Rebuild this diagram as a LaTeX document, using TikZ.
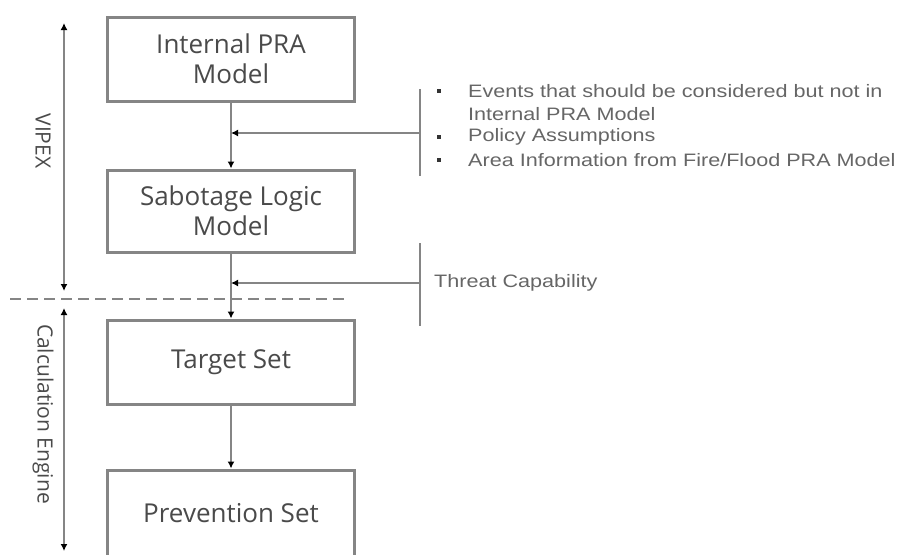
\documentclass[tikz,border=0pt]{standalone}
\usepackage{fontspec}
\setmainfont{Open Sans}
\newfontfamily\arialf{Liberation Sans}
\usetikzlibrary{arrows.meta}
\definecolor{lgray}{HTML}{858585}
\definecolor{tgray}{HTML}{4A4A4A}
\definecolor{rgray}{HTML}{666666}
\newcommand{\wide}[1]{\scalebox{1.2}[1]{#1}}
\begin{document}
\begin{tikzpicture}[x=1pt,y=-1pt,
  box/.style={draw=lgray,line width=3pt,minimum width=247pt,inner sep=0pt,align=center,
    font=\fontsize{26}{30}\selectfont,text=tgray},
  arr/.style={draw=lgray,line width=2.8pt,-{Latex[length=7pt,width=7pt,color=black]}},
  darr/.style={draw=lgray,line width=2.8pt,{Latex[length=7pt,width=7pt,color=black]}-{Latex[length=7pt,width=7pt,color=black]}},
  ln/.style={draw=lgray,line width=2.8pt},
  side/.style={font=\fontsize{21}{24}\selectfont,text=tgray},
  note/.style={font=\arialf\fontsize{18}{23}\selectfont,text=rgray,anchor=west,inner sep=0pt},
  bul/.style={fill=black!80,minimum size=4.5pt,inner sep=0pt}]
\useasboundingbox (0,0) rectangle (901,554);
\fill[white] (0,0) rectangle (901,554);
% boxes
\node[box,minimum height=84pt] (b1) at (231,59) {Internal PRA\\Model};
\node[box,minimum height=82pt] (b2) at (231,211) {Sabotage Logic\\Model};
\node[box,minimum height=84pt] (b3) at (231,362) {Target Set};
\node[box,minimum height=88pt,text depth=0pt] (b4) at (231,514) {\raisebox{3pt}{Prevention Set}};
% main arrows
\draw[arr] (b1) -- (b2);
\draw[arr] (b2) -- (b3);
\draw[arr] (b3) -- (b4);
% brackets
\coordinate (k1t) at (420,89);
\coordinate (k1b) at (420,176);
\coordinate (k1m) at (420,133);
\draw[ln] (k1t) -- (k1b);
\draw[arr] (k1m) -- (k1m -| b1.south);
\coordinate (k2t) at (420,243);
\coordinate (k2b) at (420,326);
\coordinate (k2m) at (420,283);
\draw[ln] (k2t) -- (k2b);
\draw[arr] (k2m) -- (k2m -| b2.south);
% notes
\node[bul] (p1) at (439,91) {};
\node[note] (n1) at (468,91) {\wide{Events that should be considered but not in}};
\node[note] (n1b) at (468,114) {\wide{Internal PRA Model}};
\node[bul] (p2) at (439,137) {};
\node[note] (n2) at (468,137) {\wide{Policy Assumptions}};
\node[bul] (p3) at (439,160) {};
\node[note] (n3) at (468,160) {\wide{Area Information from Fire/Flood PRA Model}};
\node[note] (n4) at (434,283) {\wide{Threat Capability}};
% dashed separator
\coordinate (d1) at (10,299);
\coordinate (d2) at (348,299);
\draw[lgray,line width=2.4pt,dash pattern=on 11pt off 6pt] (d1) -- (d2);
% side arrows
\coordinate (s1t) at (64,23);
\coordinate (s1b) at (64,291);
\coordinate (s2t) at (64,308);
\coordinate (s2b) at (64,551);
\draw[darr] (s1b) -- (s1t);
\draw[darr] (s2t) -- (s2b);
\node[side,rotate=-90] (vip) at (43,141) {VIPEX};
\node[side,rotate=-90] (calc) at (43,414) {Calculation Engine};
\end{tikzpicture}
\end{document}
